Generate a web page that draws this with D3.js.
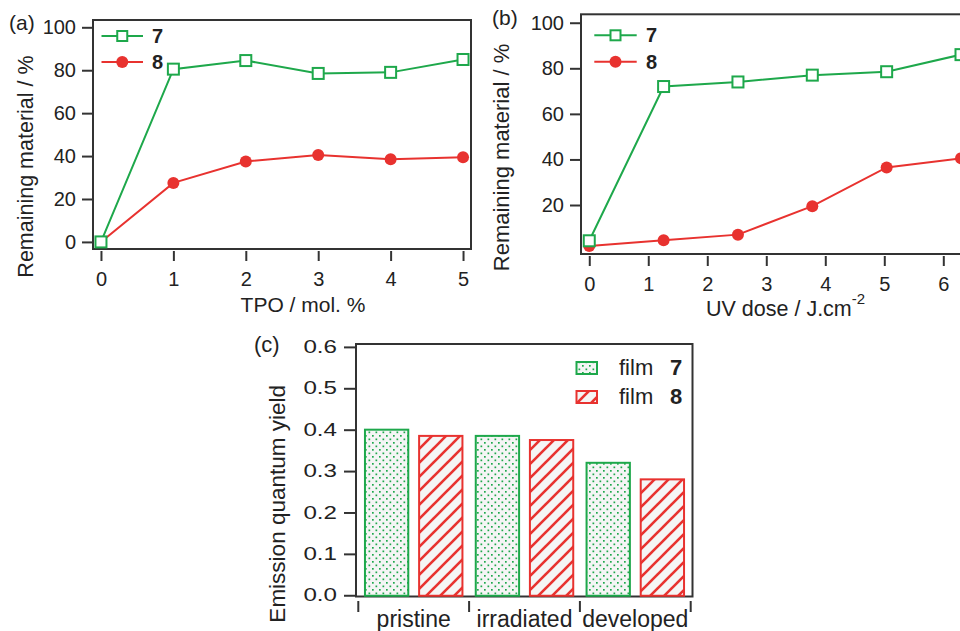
<!DOCTYPE html>
<html><head><meta charset="utf-8">
<script src="https://cdn.jsdelivr.net/npm/d3@7"></script>
<style>
html,body{margin:0;padding:0;background:#fff;}
text{font-family:"Liberation Sans",Arial,Helvetica,sans-serif;fill:#222;}
</style></head>
<body>
<svg id="chart" width="960" height="631"></svg>
<script>
// ---- data ----
const tpo = [0, 1, 2, 3, 4, 5];
const tpoFilm7 = [0, 80.5, 84.5, 78.5, 79, 85];
const tpoFilm8 = [0, 27.5, 37.5, 40.5, 38.5, 39.5];
const uvDose = [0, 1.26, 2.52, 3.78, 5.04, 6.3];
const uvFilm7 = [4.3, 72, 74, 77, 78.5, 86];
const uvFilm8 = [2, 4.5, 7, 19.5, 36.5, 40.5];
const stages = ["pristine", "irradiated", "developed"];
const films = ["7", "8"];
const qyFilm7 = [0.40, 0.385, 0.32];
const qyFilm8 = [0.385, 0.375, 0.28];
const ticksAx = [0, 1, 2, 3, 4, 5];
const ticksAy = [0, 20, 40, 60, 80, 100];
const ticksBx = [0, 1, 2, 3, 4, 5, 6];
const ticksBy = [20, 40, 60, 80, 100];
const ticksCy = [0, 0.1, 0.2, 0.3, 0.4, 0.5, 0.6];

const GREEN = "#1ea84b", RED = "#e8322f", AXIS = "#333";
const svg = d3.select("#chart");

// patterns
const defs = svg.append("defs");
const dots = defs.append("pattern").attr("id", "dots").attr("patternUnits", "userSpaceOnUse")
  .attr("width", 7).attr("height", 7);
dots.append("rect").attr("width", 7).attr("height", 7).attr("fill", "#f5f5f5");
dots.append("rect").attr("x", 1).attr("y", 1).attr("width", 1.7).attr("height", 1.7).attr("fill", GREEN);
dots.append("rect").attr("x", 4.5).attr("y", 4.5).attr("width", 1.7).attr("height", 1.7).attr("fill", GREEN);
const hatch = defs.append("pattern").attr("id", "hatch").attr("patternUnits", "userSpaceOnUse")
  .attr("width", 14).attr("height", 14);
hatch.append("rect").attr("width", 14).attr("height", 14).attr("fill", "#f5f5f5");
[[-7, 7, 7, -7], [0, 14, 14, 0], [7, 21, 21, 7]].forEach(l =>
  hatch.append("line").attr("x1", l[0]).attr("y1", l[1]).attr("x2", l[2]).attr("y2", l[3])
    .attr("stroke", RED).attr("stroke-width", 2.6));

function linePanel(o) {
  const g = svg.append("g");
  const x = d3.scaleLinear().domain(o.xDomain).range(o.xRange);
  const y = d3.scaleLinear().domain(o.yDomain).range(o.yRange);
  g.append("rect").attr("x", o.xRange[0]).attr("y", o.yRange[1])
    .attr("width", o.xRange[1] - o.xRange[0]).attr("height", o.yRange[0] - o.yRange[1])
    .attr("fill", "none").attr("stroke", AXIS).attr("stroke-width", 2);
  const ya = g.append("g").attr("transform", `translate(${o.xRange[0]},0)`)
    .call(d3.axisLeft(y).tickValues(o.yTicks).tickSize(11).tickPadding(6).tickFormat(d3.format("d")));
  ya.select(".domain").remove();
  ya.selectAll("line").attr("stroke", AXIS).attr("stroke-width", 2);
  ya.selectAll("text").attr("font-size", 20).style("font-family", "Liberation Sans, Arial").attr("fill", "#222");
  const xa = g.append("g").attr("transform", `translate(0,${o.yRange[0] + o.xTickGap})`)
    .call(d3.axisBottom(x).tickValues(o.xTicks).tickSize(10).tickPadding(o.xTickPad).tickFormat(d3.format("d")));
  xa.select(".domain").remove();
  xa.selectAll("line").attr("stroke", AXIS).attr("stroke-width", 2);
  xa.selectAll("text").attr("font-size", 20).style("font-family", "Liberation Sans, Arial").attr("fill", "#222");
  const line = d3.line().x(d => x(d[0])).y(d => y(d[1]));
  const s8 = o.xs.map((v, i) => [v, o.s8[i]]);
  const s7 = o.xs.map((v, i) => [v, o.s7[i]]);
  g.append("path").datum(s8).attr("d", line).attr("fill", "none").attr("stroke", RED).attr("stroke-width", 2);
  g.selectAll(".c8").data(s8).join("circle").attr("cx", d => x(d[0])).attr("cy", d => y(d[1]))
    .attr("r", 6).attr("fill", RED);
  g.append("path").datum(s7).attr("d", line).attr("fill", "none").attr("stroke", GREEN).attr("stroke-width", 2);
  g.selectAll(".s7").data(s7).join("rect").attr("x", d => x(d[0]) - 5.5).attr("y", d => y(d[1]) - 5.5)
    .attr("width", 11).attr("height", 11).attr("fill", "#fff").attr("stroke", GREEN).attr("stroke-width", 2);
  const L = o.legend;
  g.append("line").attr("x1", L.x1).attr("x2", L.x2).attr("y1", L.y7).attr("y2", L.y7).attr("stroke", GREEN).attr("stroke-width", 2);
  g.append("rect").attr("x", (L.x1 + L.x2) / 2 - 5).attr("y", L.y7 - 5).attr("width", 10).attr("height", 10)
    .attr("fill", "#fff").attr("stroke", GREEN).attr("stroke-width", 2);
  g.append("text").attr("x", L.tx).attr("y", L.y7 + 7).attr("font-size", 20).attr("font-weight", "bold").text("7");
  g.append("line").attr("x1", L.x1).attr("x2", L.x2).attr("y1", L.y8).attr("y2", L.y8).attr("stroke", RED).attr("stroke-width", 2);
  g.append("circle").attr("cx", (L.x1 + L.x2) / 2).attr("cy", L.y8).attr("r", 6).attr("fill", RED);
  g.append("text").attr("x", L.tx).attr("y", L.y8 + 7).attr("font-size", 20).attr("font-weight", "bold").text("8");
  return g;
}

// (a)
linePanel({
  xDomain: [-0.11, 5.11], xRange: [93, 471], yDomain: [-3.3, 103.4], yRange: [249, 20],
  yTicks: ticksAy, xTicks: ticksAx, xTickGap: 2, xTickPad: 11,
  xs: tpo, s7: tpoFilm7, s8: tpoFilm8,
  legend: { x1: 101.5, x2: 143, y7: 36, y8: 62, tx: 152 }
});
svg.append("text").attr("x", 9).attr("y", 30).attr("font-size", 21).text("(a)");
svg.append("text").attr("transform", "translate(33,166.5) rotate(-90)").attr("text-anchor", "middle")
  .attr("font-size", 21.5).text("Remaining material / %");
svg.append("text").attr("x", 303).attr("y", 312).attr("text-anchor", "middle").attr("font-size", 21).text("TPO / mol. %");

// (b)
linePanel({
  xDomain: [-0.14, 6.6], xRange: [581, 978.7], yDomain: [-1.5, 103.7], yRange: [254, 14.3],
  yTicks: ticksBy, xTicks: ticksBx, xTickGap: 2, xTickPad: 11,
  xs: uvDose, s7: uvFilm7, s8: uvFilm8,
  legend: { x1: 594.3, x2: 636.7, y7: 35.3, y8: 61.7, tx: 646 }
});
svg.append("text").attr("x", 492).attr("y", 25).attr("font-size", 21).text("(b)");
svg.append("text").attr("transform", "translate(509,157.5) rotate(-90)").attr("text-anchor", "middle")
  .attr("font-size", 22).text("Remaining material / %");
const xb = svg.append("text").attr("x", 706).attr("y", 316).attr("font-size", 21.5).text("UV dose / J.cm");
xb.append("tspan").attr("dy", -12).attr("font-size", 15).text("-2");

// (c)
const gc = svg.append("g");
const xc = d3.scaleBand().domain(stages).range([358.3, 690.7]).padding(0);
const xf = d3.scaleBand().domain(films).range([0, xc.bandwidth()]).paddingInner(0.2).paddingOuter(0.123);
const yc = d3.scaleLinear().domain([-0.003, 0.607]).range([596.5, 344]);
gc.append("rect").attr("x", 356).attr("y", 344).attr("width", 336.5).attr("height", 252.5)
  .attr("fill", "none").attr("stroke", AXIS).attr("stroke-width", 2);
const yca = gc.append("g").attr("transform", "translate(356,0)")
  .call(d3.axisLeft(yc).tickValues(ticksCy).tickSize(12).tickPadding(7).tickFormat(d3.format(".1f")));
yca.select(".domain").remove();
yca.selectAll("line").attr("stroke", AXIS).attr("stroke-width", 2);
const SX = 1.38;
yca.selectAll("text").attr("font-size", 17.5).style("font-family", "Liberation Sans, Arial").attr("fill", "#222")
  .attr("x", -19 / SX).attr("transform", `scale(${SX},1)`);
const bounds = stages.map(s => xc(s)).concat([xc(stages[stages.length - 1]) + xc.bandwidth()]);
gc.selectAll(".bt").data(bounds).join("line").attr("x1", d => d).attr("x2", d => d)
  .attr("y1", 601).attr("y2", 612).attr("stroke", AXIS).attr("stroke-width", 2);
gc.selectAll(".cl").data(stages).join("text").attr("x", d => xc(d) + xc.bandwidth() / 2).attr("y", 626.5)
  .attr("text-anchor", "middle").attr("font-size", 23).text(d => d);
const barData = [];
stages.forEach((s, i) => {
  barData.push({ stage: s, film: "7", v: qyFilm7[i] });
  barData.push({ stage: s, film: "8", v: qyFilm8[i] });
});
gc.selectAll(".bar").data(barData).join("rect")
  .attr("x", d => xc(d.stage) + xf(d.film)).attr("width", xf.bandwidth())
  .attr("y", d => yc(d.v)).attr("height", d => yc(0) - yc(d.v) + 0.5)
  .attr("fill", d => d.film === "7" ? "url(#dots)" : "url(#hatch)")
  .attr("stroke", d => d.film === "7" ? GREEN : RED).attr("stroke-width", 2);
gc.append("rect").attr("x", 576.5).attr("y", 362).attr("width", 20.5).attr("height", 12)
  .attr("fill", "url(#dots)").attr("stroke", GREEN).attr("stroke-width", 2);
gc.append("rect").attr("x", 576.5).attr("y", 391).attr("width", 20.5).attr("height", 12)
  .attr("fill", "url(#hatch)").attr("stroke", RED).attr("stroke-width", 2);
gc.append("text").attr("x", 619).attr("y", 375).attr("font-size", 22).text("film");
gc.append("text").attr("x", 670).attr("y", 375).attr("font-size", 22).attr("font-weight", "bold").text("7");
gc.append("text").attr("x", 619).attr("y", 404).attr("font-size", 22).text("film");
gc.append("text").attr("x", 670).attr("y", 404).attr("font-size", 22).attr("font-weight", "bold").text("8");
svg.append("text").attr("x", 254).attr("y", 352).attr("font-size", 22).text("(c)");
svg.append("text").attr("transform", "translate(285,385) rotate(-90)").attr("text-anchor", "end")
  .attr("font-size", 22.5).text("Emission quantum yield");
</script>
</body></html>
